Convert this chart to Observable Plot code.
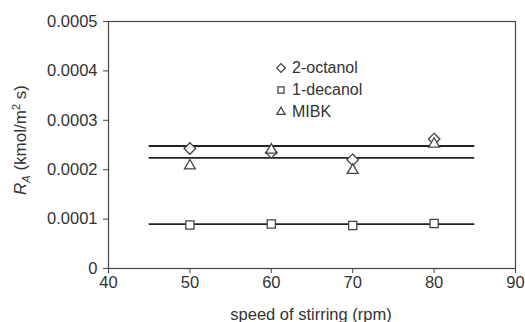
<!DOCTYPE html>
<html>
<head>
<meta charset="utf-8">
<script src="https://cdn.jsdelivr.net/npm/d3@7"></script>
<script src="https://cdn.jsdelivr.net/npm/@observablehq/plot@0.6"></script>
<style>
  body { margin: 0; background: #fff; }
  #wrap { position: relative; width: 525px; height: 322px; font-family: "Liberation Sans", Arial, sans-serif; }
  #legend { position: absolute; left: 274px; top: 57px; font-size: 16px; color: #333; line-height: 22px; }
  #legend .row { display: flex; align-items: center; height: 22px; }
  #legend svg { margin-right: 4px; }
</style>
</head>
<body>
<div id="wrap"></div>
<script>
// ---- data ----
const speeds = [50, 60, 70, 80];
const octanol = [0.000243, 0.000235, 0.000220, 0.000262];
const decanol = [0.000088, 0.000090, 0.000087, 0.000091];
const mibk = [0.000208, 0.000240, 0.000199, 0.000252];
const seriesNames = ["2-octanol", "1-decanol", "MIBK"];
const seriesSymbols = ["diamond2", "square2", "triangle2"];
const fitValues = [0.000248, 0.000224, 0.000090];
const fitStart = [45, 45, 45];
const fitEnd = [85, 85, 85];
const xTicks = [40, 50, 60, 70, 80, 90];
const yTicks = [0, 0.0001, 0.0002, 0.0003, 0.0004, 0.0005];
const yTickLabels = ["0", "0.0001", "0.0002", "0.0003", "0.0004", "0.0005"];
const xLabel = "speed of stirring (rpm)";

const seriesValues = [octanol, decanol, mibk];
const points = [];
seriesNames.forEach((name, i) => {
  speeds.forEach((s, j) => points.push({ name, speed: s, value: seriesValues[i][j] }));
});
const fits = fitValues.map((v, i) => ({ value: v, x1: fitStart[i], x2: fitEnd[i] }));

const ink = "#444";
const chart = Plot.plot({
  width: 525,
  height: 322,
  marginLeft: 108,
  marginRight: 10,
  marginTop: 21,
  marginBottom: 54,
  style: { fontFamily: "'Liberation Sans', Arial, sans-serif", fontSize: "16.5px", color: "#333", background: "#fff" },
  x: { domain: [40, 90] },
  y: { domain: [0, 0.0005] },
  symbol: { domain: seriesNames, range: seriesSymbols },
  marks: [
    Plot.frame({ stroke: ink, strokeWidth: 1.2 }),
    Plot.axisX({ ticks: xTicks, tickSize: 5, tickPadding: 3, label: null, stroke: ink }),
    Plot.axisY({ ticks: yTicks, tickSize: 5, tickPadding: 6, label: null, stroke: ink,
      tickFormat: d => yTickLabels[yTicks.indexOf(d)] }),
    Plot.ruleY(fits, { y: "value", x1: "x1", x2: "x2", stroke: "#222", strokeWidth: 1.8 }),
    Plot.dot(points, { x: "speed", y: "value", symbol: "name", r: 5.2, fill: "#fff", stroke: ink, strokeWidth: 1.3 })
  ]
});

const wrap = document.getElementById("wrap");
wrap.appendChild(chart);

// axis titles
const svg = d3.select(chart);
svg.append("text")
  .attr("x", 311).attr("y", 320)
  .attr("text-anchor", "middle")
  .attr("fill", "#333")
  .style("font-size", "16.5px")
  .text(xLabel);

const yl = svg.append("text")
  .attr("transform", "translate(26,140) rotate(-90)")
  .attr("text-anchor", "middle")
  .attr("fill", "#333")
  .style("font-size", "17px");
yl.append("tspan").attr("font-style", "italic").text("R");
yl.append("tspan").attr("font-style", "italic").attr("font-size", "11px").attr("dy", "4").text("A");
yl.append("tspan").attr("dy", "-4").text(" (kmol/m");
yl.append("tspan").attr("font-size", "11px").attr("dy", "-6").text("2");
yl.append("tspan").attr("dy", "6").text(" s)");

// legend
const symScale = Plot.scale({ symbol: { domain: seriesNames, range: seriesSymbols } });
const legend = document.createElement("div");
legend.id = "legend";
seriesNames.forEach((name) => {
  const row = document.createElement("div");
  row.className = "row";
  const icon = d3.create("svg").attr("width", 14).attr("height", 14);
  icon.append("path")
    .attr("transform", "translate(7,7)")
    .attr("d", d3.symbol(symScale.apply(name), 48)())
    .attr("fill", "#fff").attr("stroke", ink).attr("stroke-width", 1.3);
  row.appendChild(icon.node());
  const t = document.createElement("span");
  t.textContent = name;
  row.appendChild(t);
  legend.appendChild(row);
});
wrap.appendChild(legend);
</script>
</body>
</html>
